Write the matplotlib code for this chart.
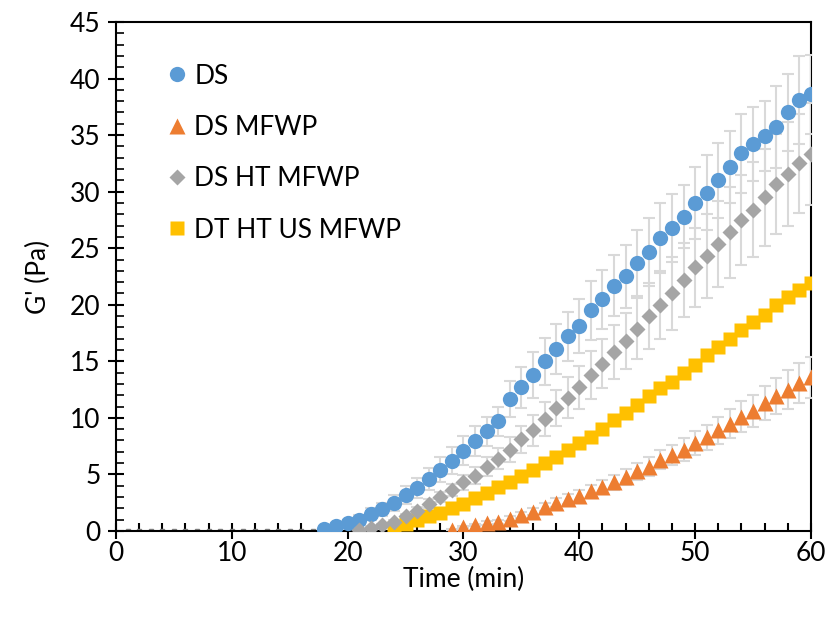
import numpy as np
import matplotlib.pyplot as plt

plt.rcParams['font.family'] = ['Lato', 'DejaVu Sans']

# Time axis of each series (min)
t_ds = np.arange(18, 61)
t_mfwp = np.arange(29, 61)
t_ht = np.arange(21, 61)
t_us = np.arange(24, 61)
t_zero = np.arange(1, 18)   # zero readings before gelation

# G' values (Pa)
g_ds = [0.2, 0.4, 0.7, 1.0, 1.5, 1.9, 2.5, 3.2, 3.8, 4.6,
        5.4, 6.2, 7.1, 7.96, 8.8, 9.7, 11.7, 12.7, 13.8, 15.0,
        16.1, 17.2, 18.1, 19.5, 20.5, 21.7, 22.5, 23.7, 24.7, 25.9,
        26.8, 27.8, 29.0, 29.9, 31.0, 32.2, 33.4, 34.2, 34.9, 35.7,
        37.0, 38.1, 38.6]
err_ds = [0.1, 0.2, 0.3, 0.4, 0.5, 0.6, 0.7, 0.8, 0.9, 1.0,
          1.1, 1.2, 1.3, 1.3, 1.3, 1.3, 1.6, 1.8, 2.0, 2.1,
          2.2, 2.2, 2.4, 2.6, 2.6, 2.7, 2.8, 2.9, 3.0, 3.1,
          3.0, 2.8, 3.2, 3.3, 3.3, 3.2, 3.5, 3.3, 3.1, 3.6,
          3.4, 3.9, 3.5]

g_mfwp = [0.1, 0.35, 0.5, 0.7, 0.8, 1.1, 1.4, 1.7, 2.1, 2.5,
          2.8, 3.1, 3.5, 3.9, 4.3, 4.8, 5.3, 5.7, 6.3, 6.7,
          7.2, 7.8, 8.3, 8.9, 9.5, 10.1, 10.6, 11.3, 11.9, 12.5,
          13.1, 13.6]
err_mfwp = [0.05, 0.1, 0.1, 0.15, 0.2, 0.2, 0.25, 0.3, 0.35, 0.4,
            0.45, 0.5, 0.55, 0.6, 0.65, 0.7, 0.75, 0.8, 0.85, 0.9,
            1.0, 1.05, 1.1, 1.2, 1.3, 1.35, 1.4, 1.5, 1.6, 1.7,
            1.75, 1.8]

g_ht = [0.1, 0.3, 0.5, 0.8, 1.3, 1.8, 2.4, 3.0, 3.6, 4.3,
        4.9, 5.7, 6.4, 7.2, 8.1, 8.9, 9.9, 10.9, 11.8, 12.7,
        13.8, 14.8, 15.8, 16.8, 17.9, 19.0, 20.0, 21.0, 22.2, 23.3,
        24.3, 25.4, 26.4, 27.5, 28.4, 29.5, 30.7, 31.6, 32.5, 33.3]
err_ht = [0.05, 0.1, 0.1, 0.15, 0.2, 0.3, 0.4, 0.45, 0.55, 0.65,
          0.75, 0.85, 0.95, 1.1, 1.2, 1.35, 1.5, 1.6, 1.8, 1.9,
          2.1, 2.2, 2.4, 2.5, 2.7, 2.9, 3.0, 3.2, 3.3, 3.5,
          3.7, 3.8, 4.0, 4.0, 4.2, 4.3, 4.4, 4.6, 4.4, 4.5]

g_us = [0.3, 0.6, 1.0, 1.3, 1.6, 2.0, 2.4, 2.9, 3.4, 3.9,
        4.3, 4.9, 5.4, 6.0, 6.5, 7.2, 7.8, 8.3, 9.0, 9.8,
        10.4, 11.1, 11.9, 12.6, 13.2, 14.0, 14.7, 15.6, 16.3, 17.0,
        17.8, 18.5, 19.1, 20.0, 20.7, 21.3, 21.9]

g_zero = [0.0] * len(t_zero)

fig = plt.figure(figsize=(8.26, 6.18), dpi=100)
ax = fig.add_axes([0.1404, 0.1408, 0.8414, 0.8236])

ebar = dict(ecolor='#d9d9d9', elinewidth=1.5, capsize=4, capthick=1.5, ls='none')

ax.plot(t_zero, g_zero, 's', color='#7f7f7f', ms=3.5, zorder=2)
h_ds = ax.errorbar(t_ds, g_ds, yerr=err_ds, fmt='o', color='#5b9bd5', ms=11,
                   mec='none', zorder=3, **ebar)
h_mfwp = ax.errorbar(t_mfwp, g_mfwp, yerr=err_mfwp, fmt='^', color='#ed7d31', ms=11,
                     mec='none', zorder=3, **ebar)
h_ht = ax.errorbar(t_ht, g_ht, yerr=err_ht, fmt='D', color='#a5a5a5', ms=8,
                   mec='none', zorder=3, **ebar)
h_us, = ax.plot(t_us, g_us, 's', color='#ffc000', ms=10, mec='none', zorder=3)

ax.set_xlim(0, 60)
ax.set_ylim(0, 45)
ax.set_xticks(np.arange(0, 61, 10))
ax.set_xticks(np.arange(0, 61, 2), minor=True)
ax.set_yticks(np.arange(0, 46, 5))
ax.set_yticks(np.arange(0, 46, 1), minor=True)

ax.tick_params(axis='both', which='major', direction='inout', length=12,
               width=1.5, labelsize=19, color='black')
ax.tick_params(axis='x', which='minor', direction='in', length=6, width=1.5)
ax.tick_params(axis='y', which='minor', direction='in', length=6, width=1.2)
ax.tick_params(axis='x', which='major', pad=1)
ax.tick_params(axis='y', which='major', pad=5)

for s in ax.spines.values():
    s.set_linewidth(1.5)
    s.set_color('black')

ax.set_xlabel('Time (min)', fontsize=19, labelpad=1)
ax.set_ylabel("G' (Pa)", fontsize=19, labelpad=14)

ax.legend([h_ds[0], h_mfwp[0], h_ht[0], h_us],
          ['DS', 'DS MFWP', 'DS HT MFWP', 'DT HT US MFWP'],
          loc='upper left', bbox_to_anchor=(0.035, 0.965), frameon=False,
          fontsize=19, handletextpad=0.15, labelspacing=1.0, markerscale=1.0,
          handlelength=1.0)

fig.savefig('out.png', dpi=100)
